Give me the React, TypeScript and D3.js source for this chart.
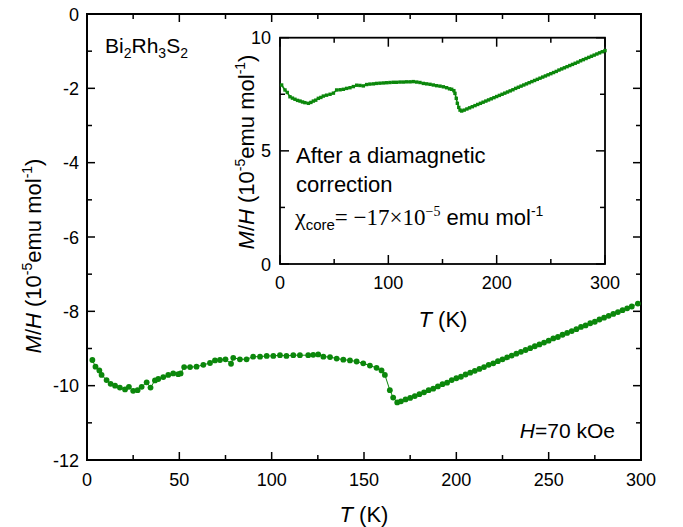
import React from "react";
import * as d3 from "d3";

// ---------- data ----------
const mainT = [
  2.9, 4.6, 6.7, 7.9, 10.6, 12.8, 15.2, 17.8, 20.6, 22.7, 25, 27.4, 29.6, 32.3, 34.4, 36.8, 38.6, 41.3, 44,
  46.7, 49.4, 50.7, 52.6, 55.8, 59.3, 63, 66.6, 69.3, 72, 75, 78, 79.2, 82.8, 86.4, 90, 93.7, 97.3, 100.9,
  104.5, 108, 111.7, 115.3, 119.8, 122.5, 125.2, 128, 131.6, 135.2, 138.8, 142.4, 146, 149.6, 153.2, 156.8,
  159.5, 161.3, 164, 165.8, 168, 170, 172.5, 175, 177.5, 180, 182.5, 185, 187.5, 190, 192.5, 195, 197.5, 200,
  202.5, 205, 207.5, 210, 212.5, 215, 217.5, 220, 222.5, 225, 227.5, 230, 232.5, 235, 237.5, 240, 242.5, 245,
  247.5, 250, 252.5, 255, 257.5, 260, 262.5, 265, 267.5, 270, 272.5, 275, 277.5, 280, 282.5, 285, 287.5, 290,
  292.5, 295, 298.3,
];
const mainMH = [
  -9.31, -9.49, -9.59, -9.71, -9.85, -9.95, -10.0, -10.05, -10.1, -10.03, -10.14, -10.12, -10.03, -9.91, -10.05,
  -9.86, -9.82, -9.77, -9.71, -9.67, -9.69, -9.67, -9.5, -9.5, -9.49, -9.44, -9.39, -9.32, -9.31, -9.29, -9.41,
  -9.25, -9.29, -9.29, -9.22, -9.22, -9.2, -9.2, -9.18, -9.2, -9.18, -9.18, -9.18, -9.17, -9.16, -9.22, -9.23,
  -9.27, -9.3, -9.32, -9.35, -9.4, -9.46, -9.52, -9.59, -9.71, -10.12, -10.32, -10.45, -10.42, -10.37, -10.33,
  -10.28, -10.23, -10.18, -10.12, -10.08, -10.02, -9.96, -9.92, -9.85, -9.8, -9.76, -9.7, -9.65, -9.6, -9.55,
  -9.5, -9.44, -9.4, -9.34, -9.29, -9.24, -9.19, -9.14, -9.09, -9.04, -8.99, -8.94, -8.89, -8.84, -8.79, -8.73,
  -8.69, -8.63, -8.58, -8.53, -8.48, -8.42, -8.38, -8.32, -8.28, -8.22, -8.17, -8.12, -8.07, -8.02, -7.97,
  -7.92, -7.87, -7.79,
];

const insetT = [
  1.5, 4.6, 6.7, 9.2, 11.5, 13.8, 16.2, 18.5, 20.8, 23, 26.2, 28.5, 30.8, 33, 35.4, 37.7, 40, 43, 46.2, 49.3,
  52.3, 55.5, 58.5, 61.5, 64.6, 67.7, 70.8, 73.8, 76.9, 80, 83, 86.2, 89.2, 92.3, 95.4, 98.5, 101.5, 104.6,
  107.7, 110.8, 113.8, 116.9, 120, 123, 126.2, 129.2, 132.3, 135.4, 138.5, 141.5, 144.6, 147.7, 150.8, 153.8,
  156.5, 158.5, 160.5, 161.5, 162.7, 163.7, 165, 166.2, 167.7, 170, 172.5, 175, 177.5, 180, 182.5, 185, 187.5,
  190, 192.5, 195, 197.5, 200, 202.5, 205, 207.5, 210, 212.5, 215, 217.5, 220, 222.5, 225, 227.5, 230, 232.5,
  235, 237.5, 240, 242.5, 245, 247.5, 250, 252.5, 255, 257.5, 260, 262.5, 265, 267.5, 270, 272.5, 275, 277.5,
  280, 282.5, 285, 287.5, 290, 292.5, 295, 297.5, 300,
];
const insetMH = [
  7.91, 7.69, 7.58, 7.39, 7.33, 7.28, 7.23, 7.2, 7.16, 7.13, 7.1, 7.14, 7.2, 7.24, 7.32, 7.36, 7.42, 7.46, 7.5,
  7.55, 7.69, 7.7, 7.72, 7.76, 7.79, 7.84, 7.9, 7.89, 7.87, 7.93, 7.95, 7.96, 7.98, 7.99, 8.0, 8.01, 8.02, 8.03,
  8.03, 8.04, 8.04, 8.05, 8.05, 8.06, 8.04, 8.02, 7.98, 7.96, 7.94, 7.91, 7.88, 7.86, 7.83, 7.79, 7.74, 7.72,
  7.66, 7.54, 7.32, 7.1, 6.92, 6.8, 6.76, 6.8, 6.85, 6.9, 6.95, 7.0, 7.05, 7.1, 7.15, 7.2, 7.25, 7.3, 7.35, 7.4,
  7.45, 7.5, 7.55, 7.6, 7.65, 7.7, 7.76, 7.81, 7.86, 7.91, 7.96, 8.01, 8.06, 8.11, 8.16, 8.21, 8.26, 8.31,
  8.36, 8.41, 8.46, 8.51, 8.57, 8.62, 8.67, 8.72, 8.77, 8.82, 8.87, 8.92, 8.98, 9.03, 9.08, 9.13, 9.18, 9.23,
  9.28, 9.33, 9.38, 9.43,
];

const mainXTicks = [0, 25, 50, 75, 100, 125, 150, 175, 200, 225, 250, 275, 300];
const mainXLabels = [0, 50, 100, 150, 200, 250, 300];
const mainYTicks = [-12, -11, -10, -9, -8, -7, -6, -5, -4, -3, -2, -1, 0];
const mainYLabels = [-12, -10, -8, -6, -4, -2, 0];
const insetXTicks = [0, 50, 100, 150, 200, 250, 300];
const insetXLabels = [0, 100, 200, 300];
const insetYTicks = [0, 2.5, 5, 7.5, 10];
const insetYLabels = [0, 5, 10];

// ---------- styles ----------
const GREEN = "#0b870b";
const SANS = "'Liberation Sans', Arial, Helvetica, sans-serif";
const SERIF = "'Liberation Serif', 'Times New Roman', serif";

export default function App() {
  const x = d3.scaleLinear().domain([0, 300]).range([87, 641]);
  const y = d3.scaleLinear().domain([-12, 0]).range([460, 14]);
  const xi = d3.scaleLinear().domain([0, 300]).range([280, 605]);
  const yi = d3.scaleLinear().domain([0, 10]).range([264, 37.7]);

  const mainPts = mainT.map((t, i) => [t, mainMH[i]] as [number, number]);
  const insetPts = insetT.map((t, i) => [t, insetMH[i]] as [number, number]);

  const mainLine = d3
    .line<[number, number]>()
    .x((d) => x(d[0]))
    .y((d) => y(d[1]))(mainPts);
  const insetLine = d3
    .line<[number, number]>()
    .x((d) => xi(d[0]))
    .y((d) => yi(d[1]))(insetPts);

  const [mx0, mx1] = x.range();
  const [my0, my1] = y.range();
  const [ix0, ix1] = xi.range();
  const [iy0, iy1] = yi.range();

  return (
    <svg
      width={683}
      height={527}
      style={{ position: "absolute", left: 0, top: 0, background: "#fff" }}
      fontFamily={SANS}
    >
      <rect x={0} y={0} width={683} height={527} fill="#fff" />

      {/* ---------- main plot ---------- */}
      <g stroke="#000" strokeWidth={1.5}>
        {mainXTicks.map((t) => {
          const len = mainXLabels.includes(t) ? 8 : 5;
          return (
            <g key={"mx" + t}>
              <line x1={x(t)} x2={x(t)} y1={my0} y2={my0 - len} />
              <line x1={x(t)} x2={x(t)} y1={my1} y2={my1 + len} />
            </g>
          );
        })}
        {mainYTicks.map((v) => {
          const len = mainYLabels.includes(v) ? 8 : 5;
          return (
            <g key={"my" + v}>
              <line x1={mx0} x2={mx0 + len} y1={y(v)} y2={y(v)} />
              <line x1={mx1} x2={mx1 - len} y1={y(v)} y2={y(v)} />
            </g>
          );
        })}
      </g>
      <rect
        x={mx0}
        y={my1}
        width={mx1 - mx0}
        height={my0 - my1}
        fill="none"
        stroke="#000"
        strokeWidth={2}
      />
      <g fontSize={18} fill="#000">
        {mainXLabels.map((t) => (
          <text key={"mxl" + t} x={x(t)} y={486} textAnchor="middle">
            {t}
          </text>
        ))}
        {mainYLabels.map((v) => (
          <text key={"myl" + v} x={79} y={y(v) + 6.5} textAnchor="end">
            {v === 0 ? "0" : "-" + Math.abs(v)}
          </text>
        ))}
      </g>
      <path d={mainLine || ""} fill="none" stroke={GREEN} strokeWidth={1} />
      {mainPts.map((d, i) => (
        <circle key={"mp" + i} cx={x(d[0])} cy={y(d[1])} r={2.9} fill={GREEN} />
      ))}

      <text x={364} y={522} textAnchor="middle" fontSize={22}>
        <tspan fontStyle="italic">T</tspan> (K)
      </text>
      <text transform={`translate(41,256) rotate(-90)`} textAnchor="middle" fontSize={22}>
        <tspan fontStyle="italic">M</tspan>/<tspan fontStyle="italic">H</tspan> (10
        <tspan fontSize={14} dy={-9}>-5</tspan>
        <tspan dy={9}>emu mol</tspan>
        <tspan fontSize={14} dy={-9}>-1</tspan>
        <tspan dy={9}>)</tspan>
      </text>

      <text x={105} y={53} fontSize={21}>
        Bi<tspan fontSize={14} dy={5}>2</tspan>
        <tspan dy={-5}>Rh</tspan>
        <tspan fontSize={14} dy={5}>3</tspan>
        <tspan dy={-5}>S</tspan>
        <tspan fontSize={14} dy={5}>2</tspan>
      </text>

      <text x={615} y={438} textAnchor="end" fontSize={21}>
        <tspan fontStyle="italic">H</tspan>=70 kOe
      </text>

      {/* ---------- inset ---------- */}
      <g stroke="#000" strokeWidth={1.5}>
        {insetXTicks.map((t) => {
          const len = insetXLabels.includes(t) ? 9 : 5;
          return (
            <g key={"ix" + t}>
              <line x1={xi(t)} x2={xi(t)} y1={iy0} y2={iy0 - len} />
              <line x1={xi(t)} x2={xi(t)} y1={iy1} y2={iy1 + len} />
            </g>
          );
        })}
        {insetYTicks.map((v) => {
          const len = insetYLabels.includes(v) ? 9 : 5;
          return (
            <g key={"iy" + v}>
              <line x1={ix0} x2={ix0 + len} y1={yi(v)} y2={yi(v)} />
              <line x1={ix1} x2={ix1 - len} y1={yi(v)} y2={yi(v)} />
            </g>
          );
        })}
      </g>
      <rect
        x={ix0}
        y={iy1}
        width={ix1 - ix0}
        height={iy0 - iy1}
        fill="none"
        stroke="#000"
        strokeWidth={1.8}
      />
      <g fontSize={18} fill="#000">
        {insetXLabels.map((t) => (
          <text key={"ixl" + t} x={xi(t)} y={289} textAnchor="middle">
            {t}
          </text>
        ))}
        {insetYLabels.map((v) => (
          <text key={"iyl" + v} x={271} y={yi(v) + 6.5} textAnchor="end">
            {v}
          </text>
        ))}
      </g>
      <path d={insetLine || ""} fill="none" stroke={GREEN} strokeWidth={1.6} />
      {insetPts.map((d, i) => (
        <rect
          key={"ip" + i}
          x={xi(d[0]) - 1.7}
          y={yi(d[1]) - 1.7}
          width={3.4}
          height={3.4}
          fill={GREEN}
        />
      ))}

      <text x={443} y={327} textAnchor="middle" fontSize={22}>
        <tspan fontStyle="italic">T</tspan> (K)
      </text>
      <text transform={`translate(254,152) rotate(-90)`} textAnchor="middle" fontSize={22}>
        <tspan fontStyle="italic">M</tspan>/<tspan fontStyle="italic">H</tspan> (10
        <tspan fontSize={14} dy={-9}>-5</tspan>
        <tspan dy={9}>emu mol</tspan>
        <tspan fontSize={14} dy={-9}>-1</tspan>
        <tspan dy={9}>)</tspan>
      </text>

      <text x={296} y={163} fontSize={22}>After a diamagnetic</text>
      <text x={296} y={192} fontSize={22}>correction</text>
      <text x={295} y={225} fontSize={22}>
        <tspan fontFamily={SERIF} fontSize={24}>χ</tspan>
        <tspan fontSize={15} dy={5}>core</tspan>
        <tspan fontFamily={SERIF} fontSize={23} dy={-5}>= −17×10</tspan>
        <tspan fontFamily={SERIF} fontSize={14} dy={-9}>−5</tspan>
        <tspan dy={9}> emu mol</tspan>
        <tspan fontSize={14} dy={-9}>-1</tspan>
      </text>
    </svg>
  );
}
